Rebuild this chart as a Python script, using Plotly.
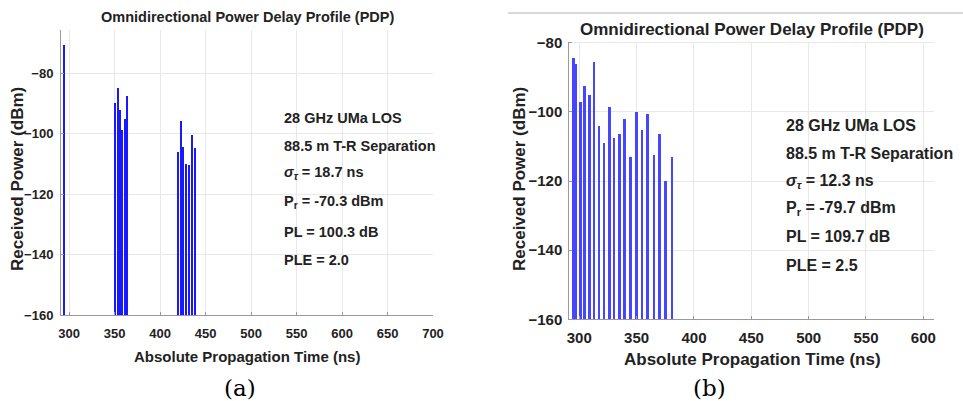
import plotly.graph_objects as go

# ---- data ----
left_t = [294.9, 350.6, 353.6, 355.8, 358.7, 361.6, 364.2,
          420.3, 422.8, 425.8, 429.1, 432.4, 435.7, 439.0]
left_p = [-70.5, -89.9, -84.9, -92.2, -98.9, -95.3, -87.7,
          -106.1, -95.7, -104.3, -110.0, -110.5, -100.4, -104.8]

right_t = [295.4, 297.8, 301.5, 305.0, 309.3, 313.4, 317.8, 322.1, 326.8, 330.8,
           335.5, 340.1, 345.3, 350.3, 355.3, 359.9, 365.7, 370.3, 375.6, 381.1]
right_p = [-84.2, -86.2, -97.1, -92.4, -95.1, -85.5, -104.1, -108.9, -98.5, -107.5,
           -106.4, -102.1, -113.0, -100.0, -105.2, -100.5, -112.3, -106.4, -119.8, -112.9]

floor_db = -160
left_xticks = [300, 350, 400, 450, 500, 550, 600, 650, 700]
right_xticks = [300, 350, 400, 450, 500, 550, 600]
left_yticks = [-80, -100, -120, -140, -160]
right_yticks = [-80, -100, -120, -140, -160]

left_info = ["28 GHz UMa LOS", "88.5 m T-R Separation",
             "<i>σ</i><sub><i>τ</i></sub> = 18.7 ns", "P<sub>r</sub> = -70.3 dBm",
             "PL = 100.3 dB", "PLE = 2.0"]
right_info = ["28 GHz UMa LOS", "88.5 m T-R Separation",
              "<i>σ</i><sub><i>τ</i></sub> = 12.3 ns", "P<sub>r</sub> = -79.7 dBm",
              "PL = 109.7 dB", "PLE = 2.5"]

title_text = "Omnidirectional Power Delay Profile (PDP)"
xlab = "Absolute Propagation Time (ns)"
ylab = "Received Power (dBm)"

W, H = 963, 401
FONT = "Liberation Sans, Arial, sans-serif"


def px(x):
    return x / W


def py(y):
    return 1 - y / H


fig = go.Figure()
fig.add_trace(go.Bar(x=left_t, y=[p - floor_db for p in left_p], base=floor_db,
                     width=1.6, marker=dict(color="rgb(25,25,255)", line_width=0),
                     xaxis="x", yaxis="y", showlegend=False))
fig.add_trace(go.Bar(x=right_t, y=[p - floor_db for p in right_p], base=floor_db,
                     width=1.7, marker=dict(color="rgb(70,70,255)", line_width=0),
                     xaxis="x2", yaxis="y2", showlegend=False))

axis_common = dict(showgrid=True, gridcolor="#e8e8e8", gridwidth=1,
                   showline=True, linecolor="#9a9a9a", linewidth=1, automargin=False,
                   ticks="inside", ticklen=3, tickcolor="#9a9a9a", zeroline=False)

fig.update_layout(
    width=W, height=H, margin=dict(l=0, r=0, t=0, b=0, autoexpand=False),
    paper_bgcolor="white", plot_bgcolor="white", bargap=0,
    xaxis=dict(domain=[px(61), px(433)], range=[291, 700], tickvals=left_xticks,
               tickfont=dict(family=FONT, size=13, color="#222", weight="bold"),
               ticklabelstandoff=6, anchor="y", **axis_common),
    yaxis=dict(domain=[py(315), py(30)], range=[-160, -65.7], tickvals=left_yticks,
               tickfont=dict(family=FONT, size=13, color="#222", weight="bold"),
               ticklabelstandoff=4, anchor="x", **axis_common),
    xaxis2=dict(domain=[px(569.3), px(934)], range=[291.3, 609.3], tickvals=right_xticks,
                tickfont=dict(family=FONT, size=15, color="#222", weight="bold"),
                ticklabelstandoff=5, anchor="y2", **axis_common),
    yaxis2=dict(domain=[py(319.3), py(41.7)], range=[-160, -79.7], tickvals=right_yticks,
                tickfont=dict(family=FONT, size=15, color="#222", weight="bold"),
                ticklabelstandoff=3, anchor="x2", **axis_common),
)

ann = []


def text(x, y, s, size, weight="bold", xanchor="center", angle=0, family=FONT, color="#222"):
    ann.append(dict(x=px(x), y=py(y), xref="paper", yref="paper", text=s, showarrow=False,
                    xanchor=xanchor, yanchor="middle", textangle=angle,
                    font=dict(family=family, size=size, color=color, weight=weight)))


# titles
text(247, 17, title_text, 14.5)
text(752, 29, title_text, 17)
# axis titles
text(247, 356, xlab, 15)
text(752, 359, xlab, 17)
text(17, 179, ylab, 17, angle=-90)
text(519, 179, ylab, 17, angle=-90)
# captions
text(240, 388, "(a)", 23, weight="normal", family="DejaVu Serif", color="black")
text(709, 388, "(b)", 23, weight="normal", family="DejaVu Serif", color="black")
# info text
left_y = [117.7, 146, 173, 202, 231.7, 260]
right_y = [126, 153.3, 181, 208, 236.7, 265]
for s, y in zip(left_info, left_y):
    text(282, y, s, 14.5, xanchor="left")
for s, y in zip(right_info, right_y):
    text(784, y, s, 16, xanchor="left")

fig.update_layout(annotations=ann)
fig.add_shape(type="line", xref="paper", yref="paper", x0=px(508), x1=1, y0=py(13), y1=py(13),
              line=dict(color="#d8d8d8", width=2))

fig.write_html("out.html", config={"displayModeBar": False},
               post_script="document.body.style.margin='0';document.body.style.overflow='hidden';")
